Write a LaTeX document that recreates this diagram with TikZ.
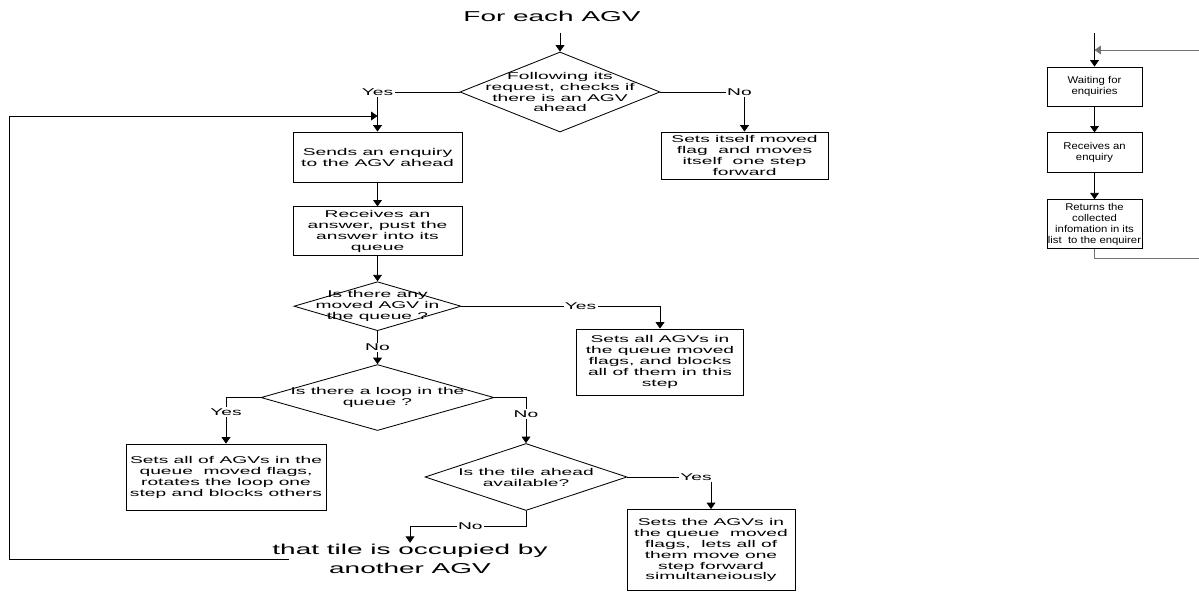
\documentclass[tikz,border=0pt]{standalone}
\usepackage{fontspec}
\setmainfont[FakeStretch=1.95]{Liberation Sans}
\newfontfamily\plainsf[FakeStretch=1.15]{Liberation Sans}
\usetikzlibrary{arrows.meta,positioning,shapes.geometric}

\begin{document}
\begin{tikzpicture}[
  font=\fontsize{7}{7.8}\selectfont, >={Triangle[length=1.6mm,width=2.2mm]},
  b/.style={draw=black, line width=0.6pt, align=center, inner sep=0pt},
  dia/.style={diamond, draw=black, line width=0.6pt, inner sep=0pt},
  dt/.style={align=center, inner sep=0pt},
  rb/.style={b, font=\plainsf\fontsize{7}{7.8}\selectfont, minimum width=2.375cm},
  big/.style={align=center, inner sep=1pt, font=\fontsize{10.2}{13}\selectfont},
  lbl/.style={fill=white, inner sep=1pt},
  a/.style={->, line width=0.6pt},
  g/.style={a, draw=black!55},
]
\useasboundingbox (0,0) rectangle (29.975,-14.8);

% left chart: one AGV
\node[big] (title) at (13.8,-0.4) {For each AGV};
\coordinate (t0) at (14,-0.825);
\node[dia, minimum width=5cm, minimum height=2cm] (d1) at (14,-2.3) {};
\node[dt] (d1t) at (d1) {Following its\\request, checks if\\there is an AGV\\ahead};
\node[b, minimum width=4.225cm, minimum height=1.25cm] (send) at (9.4375,-3.925) {Sends an enquiry\\to the AGV ahead};
\node[b, minimum width=4.225cm, minimum height=1.225cm, below=0.6cm of send] (recv) {Receives an\\answer, pust the\\answer into its\\queue};
\node[b, minimum width=4.175cm, minimum height=1.175cm] (self) at (18.6125,-3.8875) {Sets itself moved\\flag~ and moves\\itself~ one step\\forward};
\node[dia, minimum width=4.175cm, minimum height=1.225cm, below=0.625cm of recv] (d2) {};
\node[dt] (d2t) at (d2) {Is there any\\moved AGV in\\the queue ?};
\node[b, minimum width=4.175cm, minimum height=1.65cm] (mvd) at (16.5,-9.05) {Sets all AGVs in\\the queue moved\\flags, and blocks\\all of them in this\\step};
\node[dia, minimum width=5.825cm, minimum height=1.65cm, below=0.825cm of d2] (d3) {};
\node[dt] (d3t) at (d3) {Is there a loop in the\\queue ?};
\node[b, minimum width=5cm, minimum height=1.65cm] (rot) at (5.65,-11.925) {Sets all of AGVs in the\\queue~ moved flags,\\rotates the loop one\\step and blocks others};
\node[dia, minimum width=5.05cm, minimum height=1.675cm] (d4) at (13.15,-11.925) {};
\node[dt] (d4t) at (d4) {Is the tile ahead\\available?};
\node[b, minimum width=4.2cm, minimum height=2.025cm] (fwd) at (17.775,-13.75) {Sets the AGVs in\\the queue~ moved\\flags,~ lets all of\\them move one\\step forward\\simultaneiously};
\node[big, anchor=north] (tile) at (10.25,-13.57) {that tile is occupied by\\another AGV};
\coordinate (lp) at (7.225,-13.975);
\coordinate (lc) at (0.225,-2.9);

\draw[a] (t0) -- (d1.north);
\draw[a] (d1.west) -| node[lbl, pos=0.5] {Yes} (send.north);
\draw[a] (d1.east) -| node[lbl, pos=0.47] {No} (self.north);
\draw[a] (send) -- (recv);
\draw[a] (recv) -- (d2);
\draw[a] (d2.east) -| node[lbl, pos=0.3] {Yes} (mvd.north);
\draw[a] (d2) -- node[lbl] {No} (d3);
\draw[a] (d3.west) -| node[lbl, pos=0.66] {Yes} (rot.north);
\draw[a] (d3.east) -| node[lbl, pos=0.68] {No} (d4.north);
\draw[a] (d4.east) -| node[lbl, pos=0.41] {Yes} (fwd.north);
\draw[a] (d4.south) -- ++(0,-0.375) -| node[lbl, pos=0.24] {No} (tile.north);
\draw[a] (lp) -| (lc) -- (lc -| send.north);

% right chart: answering enquiries
\coordinate (rtop) at (27.3625,-0.825);
\coordinate (rin) at (30.1,-1.25);
\coordinate (rout) at (30.1,-6.45);
\node[rb, minimum height=0.975cm] (wait) at (27.3625,-2.1625) {Waiting for\\enquiries};
\node[rb, minimum height=1cm, below=0.65cm of wait] (recq) {Receives an\\enquiry};
\node[rb, minimum height=1.225cm, below=0.65cm of recq] (ret) {Returns the\\collected\\infomation in its\\list~ to the enquirer};
\draw[a] (rtop) -- (wait);
\draw[a] (wait) -- (recq);
\draw[a] (recq) -- (ret);
\draw[g] (rin) -- (rin -| wait.north);
\draw[draw=black!55, line width=0.6pt] (ret.south) |- (rout);
\end{tikzpicture}
\end{document}
